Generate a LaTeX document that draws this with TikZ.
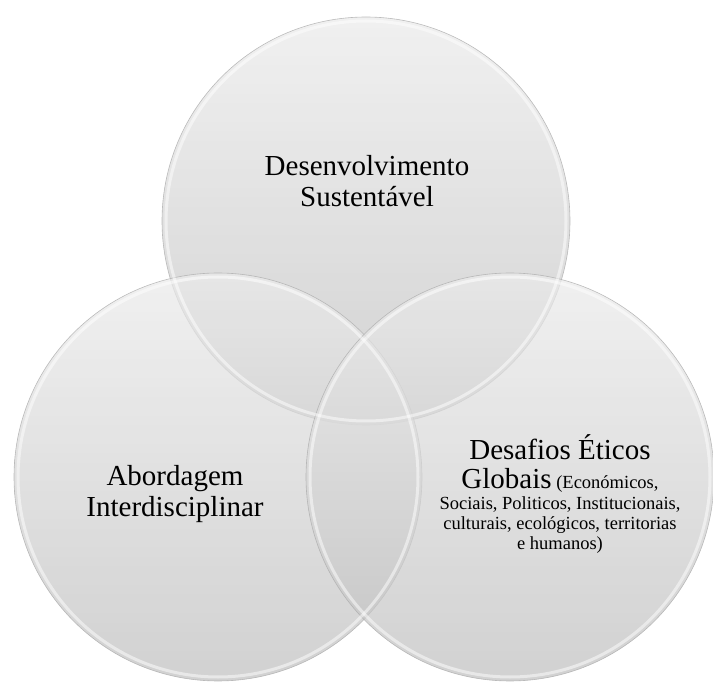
\documentclass[tikz,border=0pt]{standalone}
\usepackage{fontspec}
\setmainfont{Liberation Serif}
\begin{document}
\begin{tikzpicture}[x=1pt,y=-1pt,
    bubble/.style={circle, minimum size=408pt, inner sep=0pt, draw=black!32, line width=0.6pt,
      top color=black!8, bottom color=black!25, fill opacity=0.72, draw opacity=0.8},
    rim/.style={circle, minimum size=400pt, inner sep=0pt, draw=white, line width=3pt, draw opacity=0.5},
    bigtext/.style={font=\fontsize{29}{31}\selectfont, align=center, text=black},
    smalltext/.style={font=\fontsize{18.5}{20}\selectfont, align=center, text=black}]
    \useasboundingbox (0,0) rectangle (713,684);

    % the three circles
    \node (sust) [bubble] at (366,221) {};
    \node (abord) [bubble] at (218,477) {};
    \node (desaf) [bubble] at (510,477) {};
    \foreach \c in {sust,abord,desaf}
        \node (rim-\c) [rim] at (\c) {};

    % labels
    \node (t-desaf) [smalltext] at (560,494) {{\fontsize{29}{31}\selectfont Desafios Éticos}\\[8pt]
        {\fontsize{29}{31}\selectfont Globais} (Económicos,\\[1pt]
        Sociais, Politicos, Institucionais,\\
        culturais, ecológicos, territorias\\
        e humanos)};
    \node (t-sust) [bigtext] at (367,181) {Desenvolvimento\\Sustentável};
    \node (t-abord) [bigtext] at (175,494) {Abordagem\\Interdisciplinar};
\end{tikzpicture}
\end{document}
